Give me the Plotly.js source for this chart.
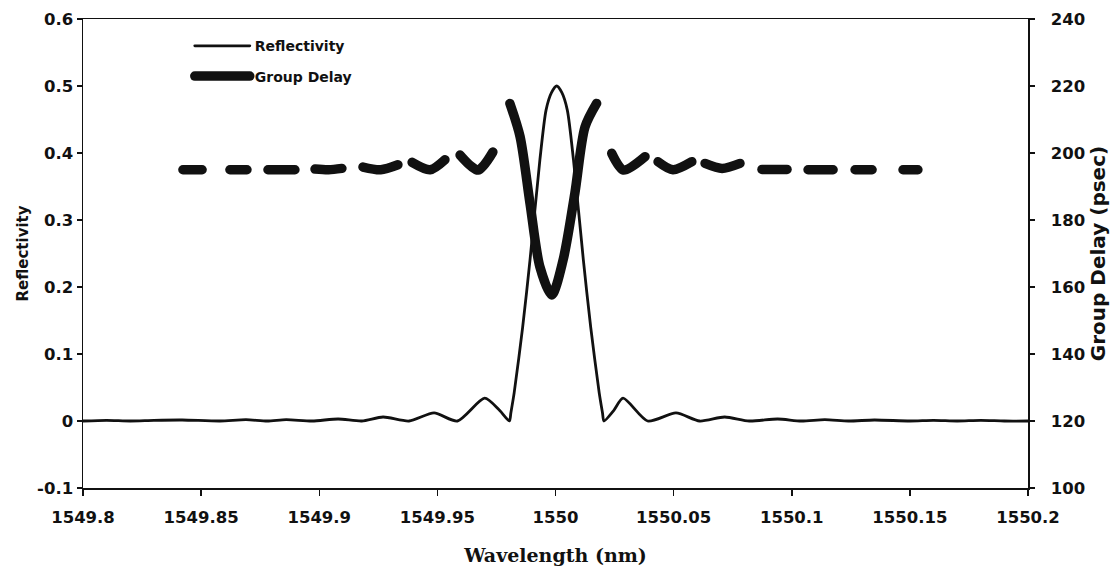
<!DOCTYPE html>
<html>
<head>
<meta charset="utf-8">
<script src="https://cdn.plot.ly/plotly-3.0.1.min.js"></script>
<style>
html,body{margin:0;padding:0;background:#fff;}
#chart{width:1118px;height:575px;}
.js-line{stroke-linecap:round;stroke-linejoin:round;}
</style>
</head>
<body>
<div id="chart"></div>
<script>
// Reflectivity spectrum (left axis)
const reflWavelength = [1549.80, 1549.81, 1549.82, 1549.83, 1549.842, 1549.858, 1549.869, 1549.878, 1549.886, 1549.897, 1549.908, 1549.918, 1549.927, 1549.938, 1549.9486, 1549.9585, 1549.970, 1549.9763, 1549.9805,
  1549.9811, 1549.9825, 1549.9861, 1549.9892, 1549.9934, 1549.9960, 1549.9983, 1550.0005, 1550.0027, 1550.0050, 1550.0076, 1550.0118, 1550.0149, 1550.0185, 1550.0199,
  1550.0205, 1550.0247, 1550.0286, 1550.039, 1550.051, 1550.061, 1550.0716, 1550.082, 1550.094, 1550.104, 1550.114, 1550.124, 1550.135, 1550.15, 1550.16, 1550.17, 1550.18, 1550.19, 1550.20];
const reflectivity = [0.000, 0.001, 0.000, 0.001, 0.0015, 0.000, 0.002, 0.000, 0.002, 0.000, 0.003, 0.000, 0.006, 0.000, 0.012, 0.000, 0.034, 0.016, 0.000,
  0.012, 0.042, 0.14, 0.24, 0.39, 0.464, 0.49, 0.500, 0.49, 0.464, 0.39, 0.24, 0.14, 0.042, 0.012,
  0.000, 0.016, 0.034, 0.000, 0.012, 0.000, 0.006, 0.000, 0.003, 0.000, 0.002, 0.000, 0.0015, 0.000, 0.001, 0.000, 0.001, 0.000, 0.000];

// Group delay (right axis); null separates the plotted segments
const gdWavelength = [1549.8423, 1549.8504, null,
  1549.8622, 1549.8694, null,
  1549.8783, 1549.8897, null,
  1549.8982, 1549.904, 1549.9096, null,
  1549.9185, 1549.926, 1549.9333, null,
  1549.9393, 1549.9469, 1549.9532, null,
  1549.9596, 1549.9672, 1549.9735, null,
  1549.9807, 1549.985, 1549.9892, 1549.9934, 1549.9984, 1550.0032, 1550.0082, 1550.0125, 1550.0174, null,
  1550.0238, 1550.0288, 1550.0379, null,
  1550.0434, 1550.0497, 1550.0577, null,
  1550.0633, 1550.0705, 1550.0781, null,
  1550.0874, 1550.0980, null,
  1550.1069, 1550.1175, null,
  1550.1268, 1550.1340, null,
  1550.1471, 1550.1534];
const groupDelay = [195, 195, null,
  195, 195, null,
  195, 195, null,
  195.2, 195, 195.4, null,
  195.8, 195, 196.5, null,
  197.2, 195, 198, null,
  199.4, 194.9, 200.3, null,
  214.8, 204.9, 185, 166, 157.6, 168, 188, 207.8, 214.8, null,
  199.9, 194.9, 198.9, null,
  197.4, 195, 197.4, null,
  196.9, 195.4, 196.9, null,
  195.1, 195.1, null,
  195, 195, null,
  195, 195, null,
  195, 195];

const xTickVals = [1549.8, 1549.85, 1549.9, 1549.95, 1550, 1550.05, 1550.1, 1550.15, 1550.2];
const xTickText = ["1549.8", "1549.85", "1549.9", "1549.95", "1550", "1550.05", "1550.1", "1550.15", "1550.2"];
const yTickVals = [-0.1, 0, 0.1, 0.2, 0.3, 0.4, 0.5, 0.6];
const yTickText = ["-0.1", "0", "0.1", "0.2", "0.3", "0.4", "0.5", "0.6"];
const y2TickVals = [100, 120, 140, 160, 180, 200, 220, 240];
const y2TickText = ["100", "120", "140", "160", "180", "200", "220", "240"];

const sans = "DejaVu Sans, Liberation Sans, Arial, sans-serif";
const serif = "DejaVu Serif, Liberation Serif, serif";
const tickFont = {family: sans, size: 16.5, color: "#111", weight: "bold"};

const traces = [
  {x: reflWavelength, y: reflectivity, name: "Reflectivity", type: "scatter", mode: "lines",
   line: {color: "#111", width: 2.8, shape: "spline", smoothing: 0.7}, legendgroup: "a", hoverinfo: "skip"},
  {x: gdWavelength, y: groupDelay, name: "Group Delay", type: "scatter", mode: "lines", yaxis: "y2",
   connectgaps: false, line: {color: "#111", width: 9.5, shape: "spline", smoothing: 0.8}, legendgroup: "b", hoverinfo: "skip"}
];

const layout = {
  width: 1118, height: 575,
  margin: {l: 83, r: 90, t: 19, b: 87},
  paper_bgcolor: "#fff", plot_bgcolor: "#fff",
  showlegend: true,
  legend: {x: 0.113, y: 0.976, xanchor: "left", yanchor: "top", bgcolor: "rgba(0,0,0,0)",
    font: {family: sans, size: 14, color: "#111", weight: "bold"}, tracegroupgap: 9, traceorder: "grouped", itemwidth: 55},
  xaxis: {range: [1549.8, 1550.2], tickmode: "array", tickvals: xTickVals, ticktext: xTickText,
    showgrid: false, zeroline: false, showline: true, mirror: true, linecolor: "#111", linewidth: 1.5,
    ticks: "outside", ticklen: 6, tickwidth: 1.5, tickcolor: "#111", tickfont: tickFont, ticklabelstandoff: 8,
    title: {text: "Wavelength (nm)", font: {family: serif, size: 19, color: "#111", weight: "bold"}, standoff: 22}},
  yaxis: {range: [-0.1, 0.6], tickmode: "array", tickvals: yTickVals, ticktext: yTickText,
    showgrid: false, zeroline: false, showline: true, linecolor: "#111", linewidth: 1.5,
    ticks: "outside", ticklen: 5, tickwidth: 1.5, tickcolor: "#111", tickfont: tickFont,
    title: {text: "Reflectivity", font: {family: sans, size: 15, color: "#111", weight: "bold"}, standoff: 5}},
  yaxis2: {range: [100, 240], overlaying: "y", side: "right", tickmode: "array", tickvals: y2TickVals, ticktext: y2TickText,
    showgrid: false, zeroline: false, showline: true, linecolor: "#111", linewidth: 1.5,
    ticks: "outside", ticklen: 5, tickwidth: 1.5, tickcolor: "#111", tickfont: tickFont, ticklabelstandoff: 13,
    title: {text: "Group Delay (psec)", font: {family: sans, size: 20, color: "#111", weight: "bold"}, standoff: 6}}
};

Plotly.newPlot("chart", traces, layout, {displayModeBar: false, staticPlot: true});
</script>
</body>
</html>
